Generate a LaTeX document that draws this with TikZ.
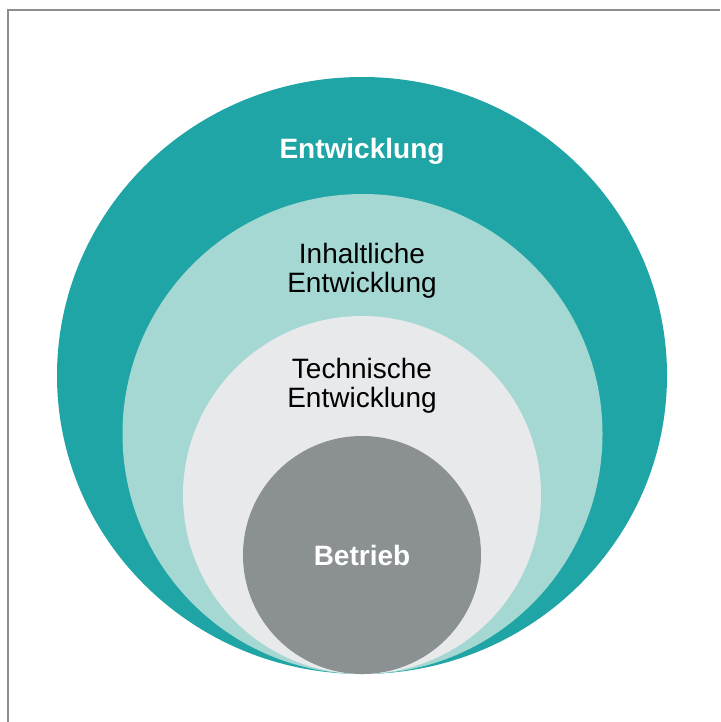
\documentclass[tikz,border=0pt]{standalone}
\usepackage{fontspec}
\setmainfont{Liberation Sans}
\definecolor{tealdark}{RGB}{31,165,165}
\definecolor{teallight}{RGB}{165,216,211}
\definecolor{greylight}{RGB}{232,233,235}
\definecolor{greydark}{RGB}{139,144,147}
\definecolor{frame}{RGB}{138,142,145}
\tikzset{
  lbl/.style={anchor=base, inner sep=0pt, font=\fontsize{28}{30}\selectfont},
  lblb/.style={lbl, font=\fontsize{28}{30}\selectfont\bfseries, text=white}
}
\begin{document}
\begin{tikzpicture}[x=1pt,y=-1pt]
\useasboundingbox (0,0) rectangle (720,722);
\fill[white] (0,0) rectangle (720,722);
\draw[frame, line width=2pt] (720,10) -- (7.8,10) -- (7.8,722);
\fill[tealdark] (362,375.5) ellipse [x radius=305, y radius=298.5];
\fill[teallight] (362.5,434) circle [radius=240];
\fill[greylight] (362,495) circle [radius=179];
\fill[greydark] (362,555) circle [radius=119];
\node[lblb] (t1) at (362,159) {Entwicklung};
\node[lbl] (t2a) at (362,263) {Inhaltliche};
\node[lbl] (t2b) at (362,292) {Entwicklung};
\node[lbl] (t3a) at (362,378.5) {Technische};
\node[lbl] (t3b) at (362,407) {Entwicklung};
\node[lblb] (t4) at (362,565) {Betrieb};
\end{tikzpicture}
\end{document}
